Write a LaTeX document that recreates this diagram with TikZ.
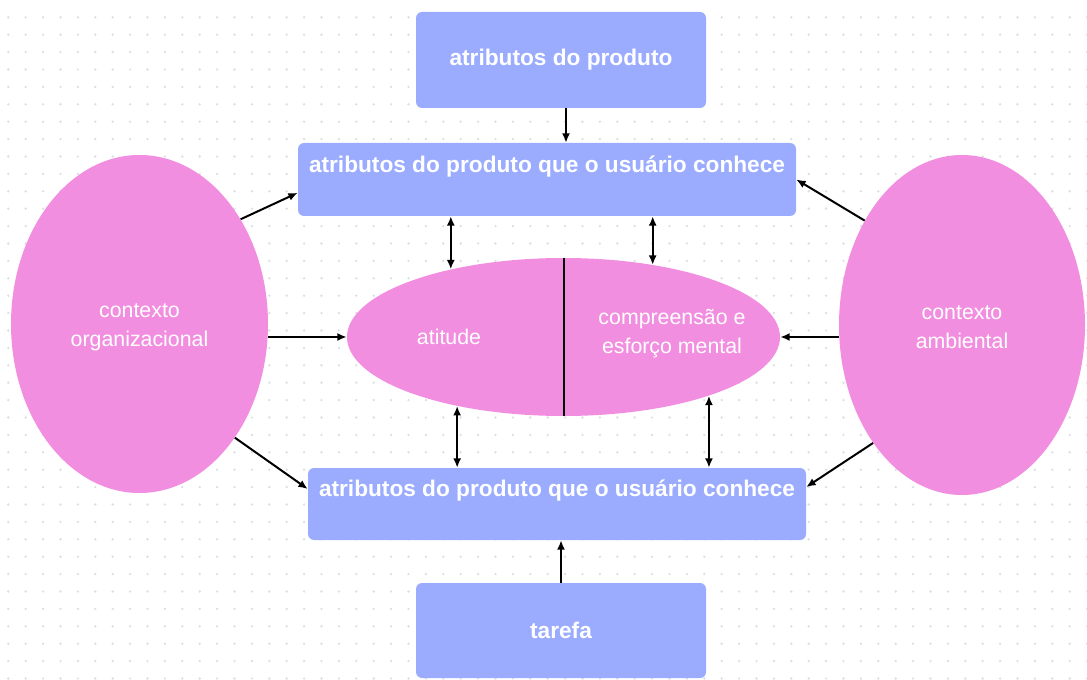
\documentclass[tikz,border=0pt]{standalone}
\usepackage{fontspec}
\setmainfont{Liberation Sans}
\usetikzlibrary{positioning, arrows.meta, shapes.geometric, calc}
\definecolor{BoxBlue}{RGB}{155,172,255}
\definecolor{BubblePink}{RGB}{242,142,224}
\definecolor{GridDot}{RGB}{220,223,228}

\begin{document}
\begin{tikzpicture}[x=0.75pt, y=-0.75pt,
    blockbox/.style={fill=BoxBlue, rounded corners=4.5pt, inner sep=0pt, text=white, font=\fontsize{17}{20}\selectfont\bfseries},
    boxtext/.style={text=white, font=\fontsize{17}{20}\selectfont\bfseries, inner sep=0pt},
    bubble/.style={ellipse, fill=BubblePink, inner sep=0pt, text=white, align=center, font=\fontsize{16}{21.75}\selectfont},
    bubbletext/.style={text=white, align=center, inner sep=0pt, font=\fontsize{16}{21.75}\selectfont},
    conn/.style={-{Latex[length=7pt,width=6pt]}, line width=1.5pt},
    biconn/.style={{Latex[length=7pt,width=6pt]}-{Latex[length=7pt,width=6pt]}, line width=1.5pt}]
  \useasboundingbox (0,0) rectangle (1087,680);
  % dotted canvas
  \foreach \i in {0,...,62}
    \foreach \j in {0,...,38}
      \fill[GridDot] (8.3+17.4*\i, 17.3+17.4*\j) circle (1pt);

  % boxes
  \node[blockbox, minimum width=217.5pt, minimum height=72pt] (prod) at (561,60) {atributos do produto};
  \node[blockbox, minimum width=373.5pt, minimum height=54.75pt] (know1) at (547,179.5) {};
  \node[boxtext] (know1txt) at (547,167) {atributos do produto que o usuário conhece};
  \node[blockbox, minimum width=373.5pt, minimum height=54pt] (know2) at (557,504) {};
  \node[boxtext] (know2txt) at (557,491) {atributos do produto que o usuário conhece};
  \node[blockbox, minimum width=217.5pt, minimum height=71.25pt] (task) at (561,630.5) {tarefa};

  % ellipses
  \node[bubble, minimum width=192.75pt, minimum height=253.5pt] (org) at (139.5,324) {};
  \node[bubbletext] (orgtxt) at (139.5,327) {contexto\\organizacional};
  \node[bubble, minimum width=184.5pt, minimum height=255pt] (amb) at (962,325) {};
  \node[bubbletext] (ambtxt) at (962,327) {contexto\\ambiental};
  \node[bubble, minimum width=324.75pt, minimum height=118.5pt] (att) at (563.5,337) {};
  \draw[line width=1.5pt] (att.north) -- (att.south);
  \node[bubbletext] (atttxt) at (449,337) {atitude};
  \node[bubbletext] (efftxt) at (672,334) {compreensão e\\esforço mental};

  % connectors
  \draw[conn] ([xshift=3.75pt]prod.south) -- ([xshift=3.75pt]prod.south |- know1.north);
  \draw[conn] (task.north) -- (task.north |- know2.south);
  \draw[conn] (org.46) -- ([yshift=-10pt]know1.west);
  \draw[conn] (org.east |- att.west) -- (att.west);
  \draw[conn] (org.-50) -- ([yshift=11.25pt]know2.west);
  \draw[conn] (amb.133) -- (know1.east);
  \draw[conn] (amb.west |- att.east) -- (att.east);
  \draw[conn] (amb.233) -- ([yshift=12.75pt]know2.east);
  \draw[biconn] (att.149.3) -- (att.149.3 |- know1.south);
  \draw[biconn] (att.39.6) -- (att.39.6 |- know1.south);
  \draw[biconn] (att.213.8) -- (att.213.8 |- know2.north);
  \draw[biconn] (att.-22.4) -- (att.-22.4 |- know2.north);
\end{tikzpicture}
\end{document}
